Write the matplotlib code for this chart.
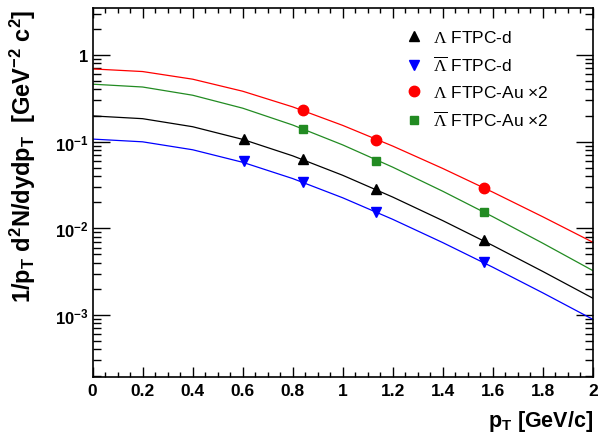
import matplotlib

matplotlib.use("Agg")

import matplotlib.pyplot as plt
import numpy as np
from matplotlib.ticker import FixedLocator, FuncFormatter, LogLocator, MultipleLocator, NullFormatter

plt.rcParams["font.family"] = ["Liberation Sans", "DejaVu Sans"]
plt.rcParams["mathtext.fontset"] = "custom"
plt.rcParams["mathtext.rm"] = "Liberation Serif"
plt.rcParams["mathtext.bf"] = "Liberation Sans:bold"
plt.rcParams["mathtext.it"] = "Liberation Sans:italic"
plt.rcParams["mathtext.sf"] = "Liberation Sans"

# measured points
pt_lam = [0.606, 0.843, 1.134, 1.563]
lam_d = [0.107, 0.063, 0.0285, 0.00735]
alam_d = [0.060, 0.034, 0.0153, 0.00406]

pt_au = [0.843, 1.134, 1.563]
lam_au = [0.230, 0.105, 0.0292]
alam_au = [0.140, 0.060, 0.0153]

# fit curves
pt_fit = [0.0, 0.2, 0.4, 0.6, 0.8, 1.0, 1.2, 1.4, 1.6, 1.8, 2.0]
fit_lam_d = [0.198, 0.1840, 0.1486, 0.1062, 0.06856, 0.04088, 0.02292,
             0.01226, 0.00633, 0.003176, 0.001561]
fit_alam_d = [0.107, 0.0995, 0.08058, 0.05778, 0.03749, 0.02249, 0.01269,
              0.006837, 0.003556, 0.001799, 0.00089]
fit_lam_au = [0.69, 0.6435, 0.5253, 0.3815, 0.2517, 0.1539, 0.08882,
              0.0490, 0.02613, 0.01357, 0.0069]
fit_alam_au = [0.46, 0.4267, 0.3431, 0.2432, 0.1555, 0.09164, 0.05072,
               0.02675, 0.01361, 0.006721, 0.00325]

GREEN = "#228b22"

fig = plt.figure(figsize=(6.05, 4.39), dpi=100)
ax = fig.add_axes([0.153, 0.140, 0.827, 0.839])

ax.plot(pt_fit, fit_lam_au, color="red", lw=0.9)
ax.plot(pt_fit, fit_alam_au, color=GREEN, lw=0.9)
ax.plot(pt_fit, fit_lam_d, color="black", lw=0.9)
ax.plot(pt_fit, fit_alam_d, color="blue", lw=0.9)

ax.plot(pt_lam, lam_d, "^", color="black", ms=7.5, label=r"$\Lambda$ FTPC-d")
ax.plot(pt_lam, alam_d, "v", color="blue", ms=7.5, label=r"$\overline{\Lambda}$ FTPC-d")
ax.plot(pt_au, lam_au, "o", color="red", ms=7.5, label=r"$\Lambda$ FTPC-Au " + "\u00d72")
ax.plot(pt_au, alam_au, "s", color=GREEN, ms=6, label=r"$\overline{\Lambda}$ FTPC-Au " + "\u00d72")

ax.set_yscale("log")
ax.set_xlim(0, 2)
ax.set_ylim(1.95e-4, 3.46)

ax.xaxis.set_major_locator(MultipleLocator(0.2))
ax.xaxis.set_minor_locator(MultipleLocator(0.05))
ax.xaxis.set_major_formatter(FuncFormatter(lambda v, p: f"{v:g}"))
ax.yaxis.set_major_locator(FixedLocator([1e-3, 1e-2, 1e-1, 1]))
ax.yaxis.set_minor_locator(LogLocator(base=10, subs=np.arange(2, 10)))
ax.yaxis.set_minor_formatter(NullFormatter())
ylabels = {1e-3: r"$\mathbf{10^{-3}}$", 1e-2: r"$\mathbf{10^{-2}}$",
           1e-1: r"$\mathbf{10^{-1}}$", 1.0: "1"}
ax.yaxis.set_major_formatter(FuncFormatter(lambda v, p: ylabels.get(v, "")))

ax.tick_params(which="both", direction="in", top=True, right=True, width=1)
ax.tick_params(axis="x", which="major", length=7, labelsize=12.5, pad=5)
ax.tick_params(axis="x", which="minor", length=3.5)
ax.tick_params(axis="y", which="major", length=12, labelsize=12, pad=3)
ax.tick_params(axis="y", which="minor", length=6)
for lbl in ax.get_xticklabels() + ax.get_yticklabels():
    lbl.set_fontweight("bold")
for s in ax.spines.values():
    s.set_linewidth(1.2)

ax.set_xlabel(r"p$_\mathbf{T}$ [GeV/c]", fontsize=15.5, fontweight="bold", loc="right")
ax.set_ylabel(r"1/p$_\mathbf{T}$ d$^\mathbf{2}$N/dydp$_\mathbf{T}$  [GeV$^\mathbf{-2}$ c$^\mathbf{2}$]",
              fontsize=17, fontweight="bold", loc="top")
ax.xaxis.set_label_coords(1.0, -0.085)
ax.yaxis.set_label_coords(-0.11, 1.0)

ax.legend(loc="upper left", bbox_to_anchor=(0.585, 0.985), frameon=False,
          fontsize=12.5, handletextpad=0.35, labelspacing=0.55, handlelength=1.5)

fig.savefig("out.png", dpi=100)
